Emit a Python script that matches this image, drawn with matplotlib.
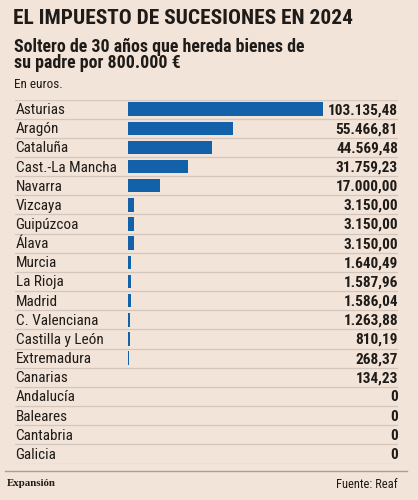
import matplotlib
matplotlib.use("Agg")
import matplotlib.pyplot as plt
from matplotlib.transforms import blended_transform_factory

regions = ["Asturias", "Aragón", "Cataluña", "Cast.-La Mancha", "Navarra", "Vizcaya",
           "Guipúzcoa", "Álava", "Murcia", "La Rioja", "Madrid", "C. Valenciana",
           "Castilla y León", "Extremadura", "Canarias", "Andalucía", "Baleares",
           "Cantabria", "Galicia"]
tax = [103135.48, 55466.81, 44569.48, 31759.23, 17000.00, 3150.00, 3150.00, 3150.00,
       1640.49, 1587.96, 1586.04, 1263.88, 810.19, 268.37, 134.23, 0, 0, 0, 0]
labels = ["103.135,48", "55.466,81", "44.569,48", "31.759,23", "17.000,00", "3.150,00",
          "3.150,00", "3.150,00", "1.640,49", "1.587,96", "1.586,04", "1.263,88",
          "810,19", "268,37", "134,23", "0", "0", "0", "0"]

cond = "Roboto Condensed"
W, H = 418, 500
bg = "#f3e4d9"
ink = "#1e1b18"
blue = "#1261a9"

fig = plt.figure(figsize=(W / 100, H / 100), dpi=100, facecolor=bg)

# axes spans the table rows; x=0 sits at px 128, the longest bar ends at px 323
x0, x1 = 15, 398
px_per = 195 / max(tax)
top, bottom = 99.5, 463.5
ax = fig.add_axes([x0 / W, 1 - bottom / H, (x1 - x0) / W, (bottom - top) / H])
ax.set_facecolor(bg)
ax.set_xlim(-(128 - x0) / px_per, (x1 - 128) / px_per)
ax.set_ylim(len(regions) - 0.5, -0.5)
ax.axis("off")

ypos = list(range(len(regions)))
ax.barh(ypos, tax, height=0.7, color=blue, zorder=2)

# row separators
for i in range(len(regions) + 1):
    ax.axhline(i - 0.5, color="#d3c7bd", lw=0.9, zorder=1)

tr = blended_transform_factory(fig.transFigure, ax.transData)
for i, (r, v) in enumerate(zip(regions, labels)):
    ax.text(15.5 / W, i + 0.05, r, transform=tr, ha="left", va="center",
            fontsize=11, family=cond, color=ink)
    ax.text(398 / W, i + 0.05, v, transform=tr, ha="right", va="center",
            fontsize=11, family=cond, weight="bold", color=ink)

# titles
fig.text(13 / W, 1 - 18.5 / H, "EL IMPUESTO DE SUCESIONES EN 2024", ha="left", va="center",
         fontsize=15.4, family=cond, weight="bold", color=ink)
fig.text(14 / W, 1 - 47 / H, "Soltero de 30 años que hereda bienes de", ha="left",
         va="center", fontsize=12.9, family=cond, weight="bold", color=ink)
fig.text(14 / W, 1 - 63.5 / H, "su padre por 800.000 €", ha="left",
         va="center", fontsize=12.9, family=cond, weight="bold", color=ink)
fig.text(14 / W, 1 - 85 / H, "En euros.", ha="left", va="center",
         fontsize=9.5, family=cond, color=ink)

# footer
fig.add_artist(plt.Line2D([5 / W, 407 / W], [1 - 471 / H, 1 - 471 / H],
                          color="#a89e96", lw=1.0))
fig.text(7 / W, 1 - 484 / H, "Expansión", ha="left", va="center",
         fontsize=7.8, family="Liberation Serif", weight="bold", color=ink)
fig.text(398 / W, 1 - 484 / H, "Fuente: Reaf", ha="right", va="center",
         fontsize=9, family=cond, color=ink)

fig.savefig("out.png", dpi=100, facecolor=bg)
